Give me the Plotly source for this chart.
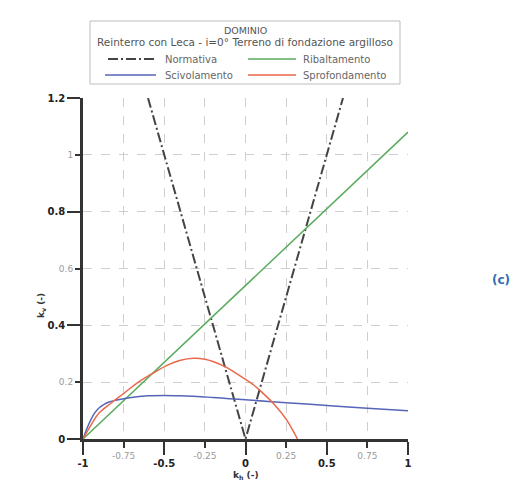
import plotly.graph_objects as go

# ---- data ----
normativa_x = [-0.6, 0.0, 0.6]
normativa_y = [1.2, 0.0, 1.2]

ribaltamento_x = [-1.0, 1.0]
ribaltamento_y = [0.0, 1.08]

scivolamento_x = [-1.0, -0.97, -0.93, -0.9, -0.87, -0.84, -0.8, -0.75, -0.68, -0.6, -0.5, -0.4,
                  -0.3, -0.2, -0.1, 0.0, 0.25, 0.5, 0.75, 1.0]
scivolamento_y = [0.0, 0.045, 0.09, 0.11, 0.122, 0.13, 0.136, 0.142, 0.148, 0.152, 0.153, 0.152,
                  0.15, 0.146, 0.142, 0.138, 0.128, 0.118, 0.108, 0.099]

sprofondamento_x = [-1.0, -0.95, -0.9, -0.83, -0.75, -0.67, -0.58, -0.48, -0.4, -0.32, -0.25,
                    -0.2, -0.12, -0.05, 0.05, 0.1, 0.18, 0.25, 0.32]
sprofondamento_y = [0.0, 0.05, 0.092, 0.125, 0.16, 0.196, 0.228, 0.26, 0.277, 0.284, 0.281,
                    0.273, 0.253, 0.228, 0.19, 0.165, 0.12, 0.07, 0.0]

x_major = [-1, -0.5, 0, 0.5, 1]
x_major_labels = ["-1", "-0.5", "0", "0.5", "1"]
x_minor = [-0.75, -0.25, 0.25, 0.75]
x_minor_labels = ["-0.75", "-0.25", "0.25", "0.75"]
y_major = [0, 0.4, 0.8, 1.2]
y_major_labels = ["0", "0.4", "0.8", "1.2"]
y_minor = [0.2, 0.6, 1.0]
y_minor_labels = ["0.2", "0.6", "1"]

legend_title = ["DOMINIO", "Reinterro con Leca - i=0° Terreno di fondazione argilloso"]

FONT = "DejaVu Sans"
AXC = "#333333"
GRID = "#cfcfcf"
W, H = 532, 481
ML, MR, MT, MB = 75, 132, 90, 50
PW, PH = W - ML - MR, H - MT - MB

def px(xp):
    return (xp - ML) / PW

def py(yp):
    return (H - MB - yp) / PH

series = [
    dict(name="Normativa", x=normativa_x, y=normativa_y,
         line=dict(color="#444444", width=2, dash="10px,3px,2px,3px"), shape="linear"),
    dict(name="Ribaltamento", x=ribaltamento_x, y=ribaltamento_y,
         line=dict(color="#5aab5e", width=1.5), shape="linear"),
    dict(name="Scivolamento", x=scivolamento_x, y=scivolamento_y,
         line=dict(color="#5564b8", width=1.5), shape="spline"),
    dict(name="Sprofondamento", x=sprofondamento_x, y=sprofondamento_y,
         line=dict(color="#e8684a", width=1.5), shape="spline"),
]

fig = go.Figure()
for s in series:
    ln = dict(s["line"])
    ln["shape"] = s["shape"]
    fig.add_trace(go.Scatter(x=s["x"], y=s["y"], mode="lines", name=s["name"], line=ln,
                             showlegend=False))
# dummy traces for secondary (minor label) axes
fig.add_trace(go.Scatter(x=[None], y=[None], xaxis="x2", yaxis="y", showlegend=False, hoverinfo="skip"))
fig.add_trace(go.Scatter(x=[None], y=[None], xaxis="x", yaxis="y2", showlegend=False, hoverinfo="skip"))

bold = lambda s: f"<b>{s}</b>"

fig.update_layout(
    width=W, height=H,
    margin=dict(l=ML, r=MR, t=MT, b=MB),
    paper_bgcolor="white", plot_bgcolor="white",
    font=dict(family=FONT, color="#444"),
    showlegend=False,
    xaxis=dict(range=[-1, 1], tickvals=x_major, ticktext=[bold(t) for t in x_major_labels],
               tickfont=dict(size=10, color="#222"), ticks="outside", ticklen=13, tickwidth=2,
               tickcolor=AXC, showline=True, linecolor=AXC, linewidth=2.5, zeroline=False,
               showgrid=True, gridcolor=GRID, griddash="dash", gridwidth=1),
    xaxis2=dict(range=[-1, 1], overlaying="x", anchor="y", side="bottom", tickvals=x_minor,
                ticktext=x_minor_labels, tickfont=dict(size=9, color="#9a9a9a"), ticks="outside",
                ticklen=8, tickwidth=2, tickcolor=AXC, showline=False, zeroline=False,
                showgrid=True, gridcolor=GRID, griddash="dash", gridwidth=1),
    yaxis=dict(range=[0, 1.2], tickvals=y_major, ticktext=[bold(t) for t in y_major_labels],
               tickfont=dict(size=10, color="#222"), ticks="outside", ticklen=13, tickwidth=2,
               tickcolor=AXC, showline=True, linecolor=AXC, linewidth=2.5, zeroline=False,
               showgrid=True, gridcolor=GRID, griddash="dash", gridwidth=1),
    yaxis2=dict(range=[0, 1.2], overlaying="y", anchor="x", side="left", tickvals=y_minor,
                ticktext=y_minor_labels, tickfont=dict(size=9, color="#9a9a9a"), ticks="outside",
                ticklen=7, tickwidth=2, tickcolor=AXC, showline=False, zeroline=False,
                showgrid=True, gridcolor=GRID, griddash="dash", gridwidth=1),
)

# ---- legend box (drawn manually for exact layout) ----
fig.add_shape(type="rect", xref="paper", yref="paper", x0=px(82), x1=px(392), y0=py(76), y1=py(13),
              line=dict(color="#bdbdbd", width=1), fillcolor="white", layer="above")
fig.add_annotation(text=legend_title[0], xref="paper", yref="paper", x=px(238), y=py(23),
                   xanchor="center", yanchor="middle", showarrow=False,
                   font=dict(family=FONT, size=9.5, color="#555"))
fig.add_annotation(text=legend_title[1], xref="paper", yref="paper", x=px(237), y=py(34),
                   xanchor="center", yanchor="middle", showarrow=False,
                   font=dict(family=FONT, size=10.5, color="#555"))
slots = [(100, 148, 155, 51), (240, 288, 293, 51), (97, 148, 155, 67), (240, 288, 293, 67)]
for s, (x0, x1, xt, yy) in zip(series, slots):
    fig.add_shape(type="line", xref="paper", yref="paper", x0=px(x0), x1=px(x1), y0=py(yy), y1=py(yy),
                  line=s["line"], layer="above")
    fig.add_annotation(text=s["name"], xref="paper", yref="paper", x=px(xt), y=py(yy),
                       xanchor="left", yanchor="middle", showarrow=False,
                       font=dict(family=FONT, size=10, color="#666"))

fig.add_annotation(text="<b>k<sub>h</sub> (-)</b>", xref="paper", yref="paper", x=0.5, y=py(468),
                   xanchor="center", yanchor="middle", showarrow=False,
                   font=dict(family=FONT, size=9, color="#333"))
fig.add_annotation(text="<b>k<sub>v</sub> (-)</b>", xref="paper", yref="paper", x=px(33), y=py(298),
                   xanchor="center", yanchor="middle", textangle=-90, showarrow=False,
                   font=dict(family=FONT, size=9, color="#333"))
fig.add_annotation(text="<b>(c)</b>", xref="paper", yref="paper", x=px(493), y=py(272),
                   xanchor="center", yanchor="middle", showarrow=False,
                   font=dict(family=FONT, size=12, color="#2f6db3"))

fig.write_html("out.html")
